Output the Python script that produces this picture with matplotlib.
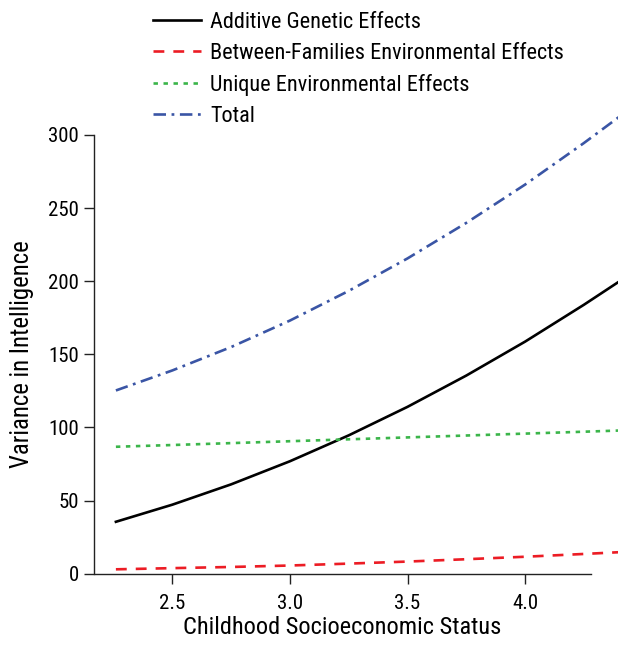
import matplotlib
matplotlib.use('Agg')
import matplotlib.pyplot as plt

# Childhood SES values the curves were read at
ses = [2.26, 2.5, 2.75, 3.0, 3.25, 3.5, 3.75, 4.0, 4.25, 4.4]

# variance components
additive = [35.5, 47.2, 61.1, 76.9, 94.6, 114.1, 135.5, 158.7, 183.9, 199.8]
between_fam = [3.0, 3.8, 4.6, 5.6, 6.9, 8.3, 9.9, 11.6, 13.5, 14.7]
unique_env = [86.8, 88.0, 89.3, 90.6, 91.9, 93.2, 94.5, 95.8, 97.1, 97.9]
total = [125.3, 139.0, 155.0, 173.1, 193.4, 215.6, 239.9, 266.1, 294.5, 312.4]

series_labels = ["Additive Genetic Effects",
                 "Between-Families Environmental Effects",
                 "Unique Environmental Effects",
                 "Total"]

xticks = [2.5, 3.0, 3.5, 4.0]
yticks = [0, 50, 100, 150, 200, 250, 300]

plt.rcParams['font.family'] = ['Roboto Condensed', 'PT Sans Narrow', 'Liberation Sans', 'DejaVu Sans']
plt.rcParams['lines.scale_dashes'] = False

W, H = 618, 645
fig = plt.figure(figsize=(W / 100, H / 100), dpi=100)
ax = fig.add_axes([94.5 / W, 1 - 573.7 / H, (590.7 - 94.5) / W, (573.7 - 135) / H])

lw = 1.9
ax.plot(ses, additive, color='black', lw=lw, clip_on=False, label=series_labels[0])
ax.plot(ses, between_fam, color='#ec1c24', lw=lw, dashes=(7.8, 6.5), clip_on=False,
        label=series_labels[1])
ax.plot(ses, unique_env, color='#3bb54a', lw=lw, dashes=(3.2, 4.0), clip_on=False,
        label=series_labels[2])
ax.plot(ses, total, color='#3a55a5', lw=lw, dashes=(9.0, 4.0, 2.0, 4.0), clip_on=False,
        label=series_labels[3])

ax.set_xlim(2.169, 4.279)
ax.set_ylim(0, 300)
ax.set_xticks(xticks)
ax.set_xticklabels(["%.1f" % t for t in xticks])
ax.set_yticks(yticks)

for s in ['top', 'right']:
    ax.spines[s].set_visible(False)
for s in ['left', 'bottom']:
    ax.spines[s].set_linewidth(1.0)
    ax.spines[s].set_color('#222222')
ax.tick_params(direction='out', length=7, width=1.0, color='#222222',
               labelsize=15, pad=4)
ax.tick_params(axis='x', pad=7.5)

ax.set_xlabel("Childhood Socioeconomic Status", fontsize=17.6, labelpad=2)
ax.set_ylabel("Variance in Intelligence", fontsize=17.8, labelpad=10)

fig.legend(loc='upper left', bbox_to_anchor=(152.7 / W, 1 - 11.5 / H),
           frameon=False, fontsize=16, handlelength=2.16, handletextpad=0.42,
           labelspacing=0.46, borderpad=0, borderaxespad=0)

fig.savefig('out.png', dpi=100)
